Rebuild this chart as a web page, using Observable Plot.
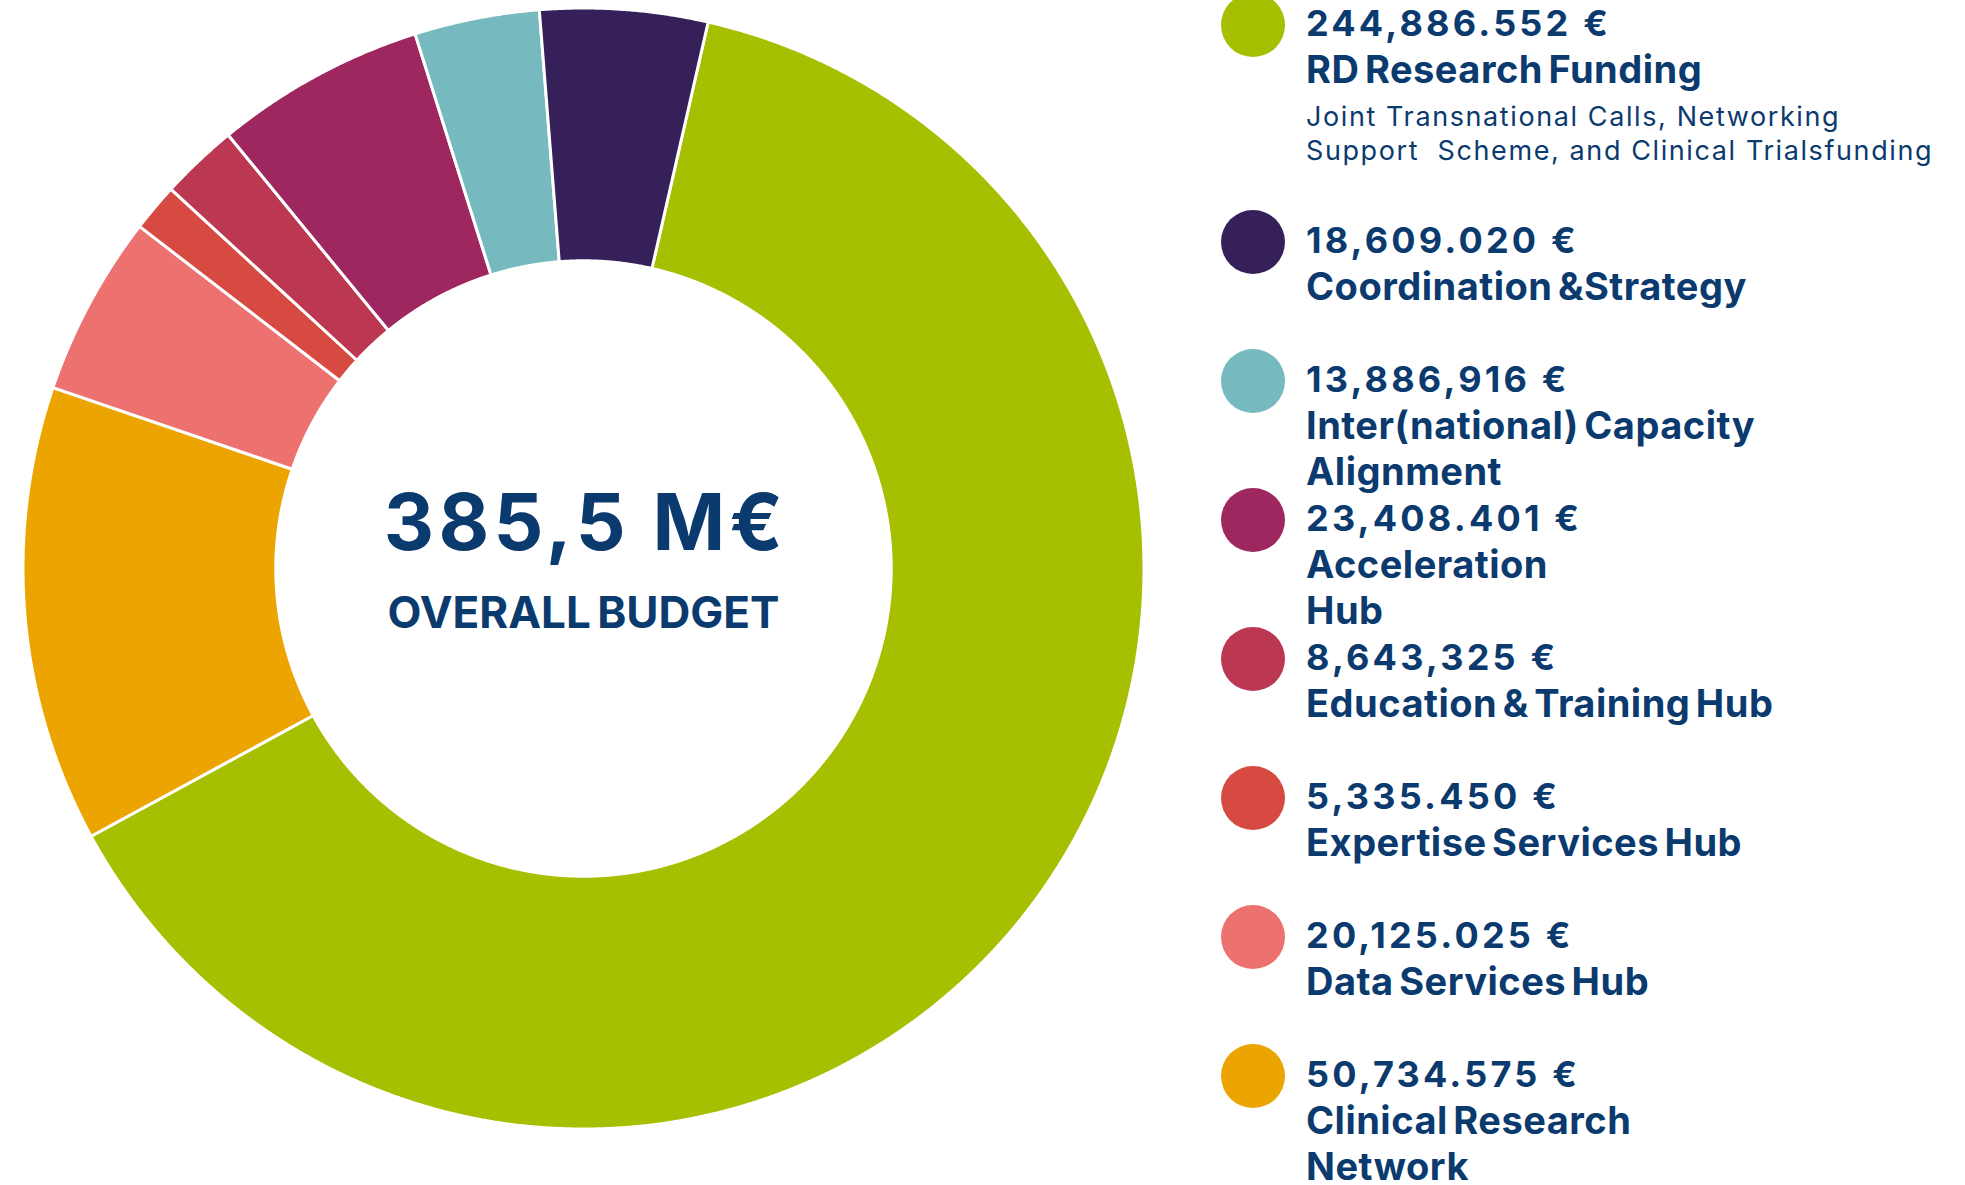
<!DOCTYPE html>
<html>
<head>
<meta charset="utf-8">
<script src="https://cdn.jsdelivr.net/npm/d3@7"></script>
<script src="https://cdn.jsdelivr.net/npm/@observablehq/plot@0.6"></script>
<style>
  html, body { margin: 0; padding: 0; background: #ffffff; }
  #wrap { position: relative; width: 1965px; height: 1185px; overflow: hidden; font-family: Inter, "Noto Sans", sans-serif; color: #0b3a6e; }
  #chart { position: absolute; left: 0; top: 0; }
  #legend { position: absolute; left: 1221px; top: 0; width: 744px; }
  .entry { position: relative; min-height: 139px; padding-left: 85px; box-sizing: border-box; }
  .dot { position: absolute; left: 0; top: -7px; width: 64px; height: 64px; border-radius: 50%; }
  .val { font-weight: 700; font-size: 36px; line-height: 46px; letter-spacing: 3.2px; white-space: pre; }
  .lab { font-weight: 700; font-size: 38px; line-height: 46px; letter-spacing: 0.5px; word-spacing: -4px; white-space: pre-line; }
  .sub { font-weight: 400; font-size: 27px; line-height: 34px; letter-spacing: 1.6px; white-space: pre; margin-top: 8px; margin-bottom: 49px; }
</style>
</head>
<body>
<div id="wrap">
  <div id="chart"></div>
  <div id="legend"></div>
</div>
<script>
// ---- data (legend order) ----
const categories = [
  "RD Research Funding",
  "Coordination &Strategy",
  "Inter(national) Capacity\nAlignment",
  "Acceleration\nHub",
  "Education & Training Hub",
  "Expertise Services Hub",
  "Data Services Hub",
  "Clinical Research\nNetwork"
];
const values = [244886552, 18609020, 13886916, 23408401, 8643325, 5335450, 20125025, 50734575];
const valueLabels = ["244,886.552 €", "18,609.020 €", "13,886,916 €", "23,408.401 €", "8,643,325 €", "5,335.450 €", "20,125.025 €", "50,734.575 €"];
const subtitles = ["Joint Transnational Calls, Networking\nSupport  Scheme, and Clinical Trialsfunding", "", "", "", "", "", "", ""];
const colors = ["#a6bf00", "#36205a", "#76b9be", "#9e2760", "#bb3752", "#d74a41", "#ed716e", "#eca500"];
const totalLabel = "385,5 M€";
const totalCaption = "OVERALL BUDGET";

// ---- build donut slices (clockwise from top: first category, then the others in reverse) ----
const drawOrder = [0, ...d3.range(categories.length - 1, 0, -1)];
const startDeg = 12.85;
const innerRatio = 0.549;
const pie = d3.pie().sort(null).value(i => values[i])
  .startAngle(startDeg * Math.PI / 180)
  .endAngle(startDeg * Math.PI / 180 + 2 * Math.PI);
const arcs = pie(drawOrder);
const pts = [];
const step = 0.2 * Math.PI / 180;
for (const a of arcs) {
  const key = categories[a.data];
  const n = Math.max(2, Math.ceil((a.endAngle - a.startAngle) / step));
  for (let k = 0; k <= n; k++) {
    const t = a.startAngle + (a.endAngle - a.startAngle) * k / n;
    pts.push({key, x: Math.sin(t), y: Math.cos(t)});
  }
  for (let k = n; k >= 0; k--) {
    const t = a.startAngle + (a.endAngle - a.startAngle) * k / n;
    pts.push({key, x: innerRatio * Math.sin(t), y: innerRatio * Math.cos(t)});
  }
}

const chart = Plot.plot({
  width: 1170,
  height: 1185,
  marginLeft: 22.5,
  marginRight: 26.5,
  marginTop: 7.5,
  marginBottom: 56.5,
  x: {domain: [-1, 1], axis: null},
  y: {domain: [-1, 1], axis: null},
  color: {type: "ordinal", domain: categories, range: colors},
  style: {background: "transparent", fontFamily: "Inter, sans-serif"},
  marks: [
    Plot.line(pts, {x: "x", y: "y", z: "key", fill: "key", stroke: "white", strokeWidth: 3, strokeLinejoin: "miter", curve: "linear-closed"}),
    Plot.text([totalLabel], {text: d => d, frameAnchor: "middle", dy: -43, fontSize: 78, fontWeight: 700, fill: "#0b3a6e"}),
    Plot.text([totalCaption], {text: d => d, frameAnchor: "middle", dy: 45, fontSize: 44, fontWeight: 700, fill: "#0b3a6e"})
  ]
});
document.getElementById("chart").appendChild(chart);
const textGroups = d3.select(chart).selectAll('g[aria-label="text"]').nodes();
if (textGroups[0]) d3.select(textGroups[0]).selectAll("text").style("letter-spacing", "4.3px").attr("dx", 2);
if (textGroups[1]) d3.select(textGroups[1]).selectAll("text").style("letter-spacing", "0px").style("word-spacing", "-4px");

// ---- legend ----
const legend = d3.select("#legend");
categories.forEach((c, i) => {
  const e = legend.append("div").attr("class", "entry");
  e.append("div").attr("class", "dot").style("background", colors[i]);
  e.append("div").attr("class", "val").text(valueLabels[i]);
  e.append("div").attr("class", "lab").text(c);
  if (subtitles[i]) e.append("div").attr("class", "sub").text(subtitles[i]);
});
</script>
</body>
</html>
